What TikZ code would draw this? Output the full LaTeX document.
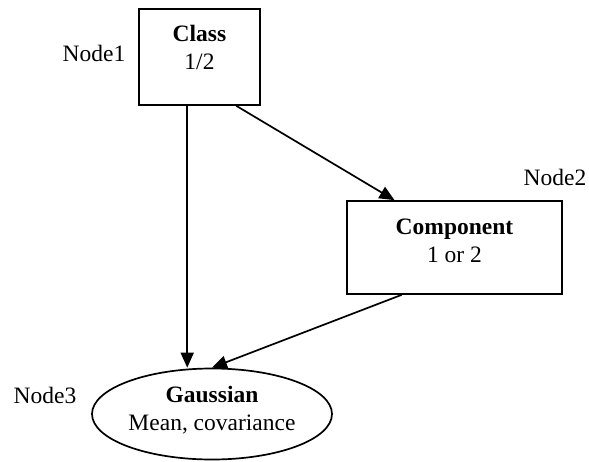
\documentclass[tikz,border=0pt]{standalone}
\usepackage{fontspec}
\setmainfont{Liberation Serif}
\usetikzlibrary{arrows.meta,shapes.geometric,calc}
\begin{document}
\begin{tikzpicture}[x=1pt,y=-1pt,
  every node/.style={font=\fontsize{23.5}{28}\selectfont},
  boxnode/.style={draw,line width=1.7pt,rectangle,inner sep=0pt,align=center},
  ellnode/.style={draw,line width=1.7pt,ellipse,inner sep=0pt,minimum width=240pt,minimum height=91pt,align=center},
  tag/.style={inner sep=0pt},
  arr/.style={line width=1.7pt,-{Triangle[length=15pt,width=13pt]}}]
\useasboundingbox (0,0) rectangle (589,461);
\node[boxnode] (cls) at (199.5,57) {\parbox[c][96pt][t]{121pt}{\centering\rule{0pt}{32pt}\textbf{Class}\\1/2}};
\node[boxnode] (comp) at (454.5,247.5) {\parbox[c][93pt][t]{215pt}{\centering\rule{0pt}{33pt}\textbf{Component}\\1 or 2}};
\node[ellnode] (g) at (212,414) {\textbf{Gaussian}\\Mean, covariance\rule[-12pt]{0pt}{0pt}};
\node[tag] (n1) at (94,53) {Node1};
\node[tag] (n2) at (555,177) {Node2};
\node[tag] (n3) at (45,395) {Node3};
\coordinate (a) at ($(cls.south west)!0.4!(cls.south east)$);
\draw[arr] (a) -- (a |- g.north);
\draw[arr] ($(cls.south west)!0.8!(cls.south east)$) -- ($(comp.north west)!0.223!(comp.north east)$);
\draw[arr] ($(comp.south west)!0.256!(comp.south east)$) -- (g.north);
\end{tikzpicture}
\end{document}
